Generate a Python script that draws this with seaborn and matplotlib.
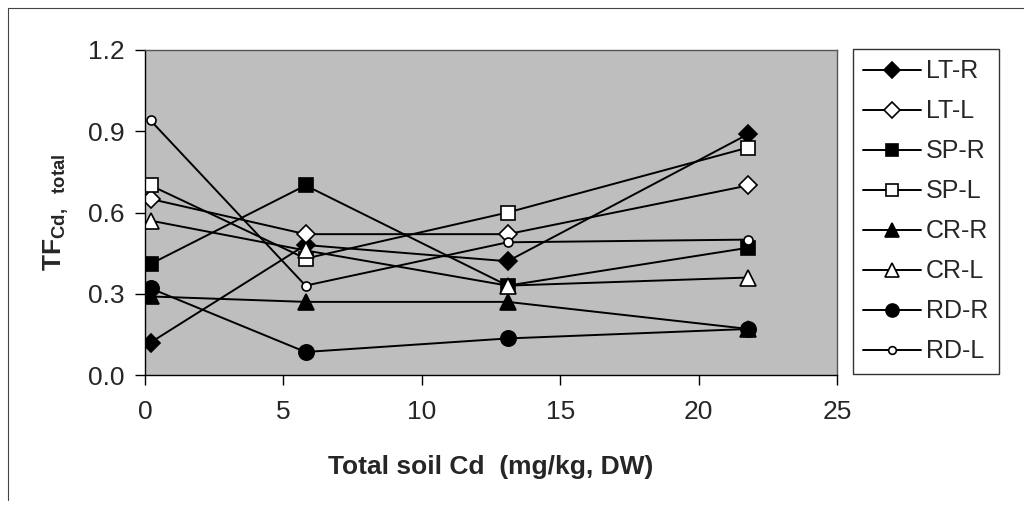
import matplotlib
matplotlib.use("Agg")
import matplotlib.pyplot as plt
from matplotlib.lines import Line2D
import seaborn as sns
import pandas as pd

# Total soil Cd at the four sites (mg/kg, DW)
soil_cd = [0.2, 5.8, 13.1, 21.8]

# Translocation factors per plant / tissue
lt_r = [0.12, 0.48, 0.42, 0.89]
lt_l = [0.65, 0.52, 0.52, 0.70]
sp_r = [0.41, 0.70, 0.33, 0.47]
sp_l = [0.70, 0.43, 0.60, 0.84]
cr_r = [0.29, 0.27, 0.27, 0.17]
cr_l = [0.57, 0.46, 0.33, 0.36]
rd_r = [0.32, 0.085, 0.135, 0.17]
rd_l = [0.94, 0.33, 0.49, 0.50]

series_names = ["LT-R", "LT-L", "SP-R", "SP-L", "CR-R", "CR-L", "RD-R", "RD-L"]
series_values = [lt_r, lt_l, sp_r, sp_l, cr_r, cr_l, rd_r, rd_l]

x_ticks = [0, 5, 10, 15, 20, 25]
y_ticks = [0.0, 0.3, 0.6, 0.9, 1.2]
y_tick_labels = ["0.0", "0.3", "0.6", "0.9", "1.2"]

df = pd.DataFrame(
    [(name, x, y) for name, vals in zip(series_names, series_values)
     for x, y in zip(soil_cd, vals)],
    columns=["series", "soil_cd", "tf"],
)

sns.set_theme(style="white")
plt.rcParams["font.family"] = ["Liberation Sans", "DejaVu Sans"]
plt.rcParams["mathtext.fontset"] = "custom"
plt.rcParams["mathtext.rm"] = "Liberation Sans"
plt.rcParams["mathtext.bf"] = "Liberation Sans:bold"

fig = plt.figure(figsize=(10.24, 5.05), dpi=100)
ax = fig.add_axes([0.1416, 0.2574, 0.6758, 0.6436])
ax.set_facecolor("#bebebe")

marker_styles = {
    "LT-R": dict(marker="D", ms=9, mfc="black"),
    "LT-L": dict(marker="D", ms=9, mfc="white"),
    "SP-R": dict(marker="s", ms=10.5, mfc="black"),
    "SP-L": dict(marker="s", ms=10.5, mfc="white"),
    "CR-R": dict(marker="^", ms=11.5, mfc="black"),
    "CR-L": dict(marker="^", ms=11.5, mfc="white"),
    "RD-R": dict(marker="o", ms=11, mfc="black"),
    "RD-L": dict(marker="o", ms=6.5, mfc="white"),
}

handles = []
for name in series_names:
    sub = df[df["series"] == name]
    st = marker_styles[name]
    sns.lineplot(data=sub, x="soil_cd", y="tf", ax=ax, color="black",
                 linewidth=1.4, marker=st["marker"], markersize=st["ms"],
                 markerfacecolor=st["mfc"], markeredgecolor="black",
                 markeredgewidth=1.2, legend=False)
    handles.append(Line2D([], [], color="black", linewidth=1.4,
                          marker=st["marker"], markersize=st["ms"] * 0.85,
                          markerfacecolor=st["mfc"], markeredgecolor="black",
                          markeredgewidth=1.2, label=name))

ax.set_xlim(0, 25)
ax.set_ylim(0, 1.2)
ax.set_xticks(x_ticks)
ax.set_yticks(y_ticks)
ax.set_yticklabels(y_tick_labels)
ax.tick_params(axis="both", direction="out", length=7, width=1.0,
               color="black", labelsize=19, pad=8, bottom=True, left=True)
ax.tick_params(axis="x", pad=11)
for side in ["left", "bottom"]:
    ax.spines[side].set_color("black")
    ax.spines[side].set_linewidth(1.0)
for side in ["top", "right"]:
    ax.spines[side].set_color("#555555")
    ax.spines[side].set_linewidth(1.0)

ax.set_xlabel("Total soil Cd  (mg/kg, DW)", fontsize=19, fontweight="bold",
              labelpad=22)
ax.set_ylabel(r"$\mathbf{TF}_{\mathbf{Cd,\ \ total}}$", fontsize=19,
              labelpad=12)

leg = fig.legend(handles=handles, loc="upper left",
                 bbox_to_anchor=(0.833, 0.903), borderaxespad=0,
                 frameon=True, fancybox=False, edgecolor="black",
                 fontsize=18, handlelength=2.3, handletextpad=0.2,
                 labelspacing=0.64, borderpad=0.42)
leg.get_frame().set_linewidth(1.0)

# Outer chart-area frame (left and top edges)
fig.add_artist(Line2D([8 / 1024, 8 / 1024], [1 - 8 / 505, 1 - 500 / 505],
                      transform=fig.transFigure, color="#444444", linewidth=0.8))
fig.add_artist(Line2D([8 / 1024, 1.0], [1 - 8 / 505, 1 - 8 / 505],
                      transform=fig.transFigure, color="#444444", linewidth=0.8))

fig.savefig("out.png", dpi=100, facecolor="white")
